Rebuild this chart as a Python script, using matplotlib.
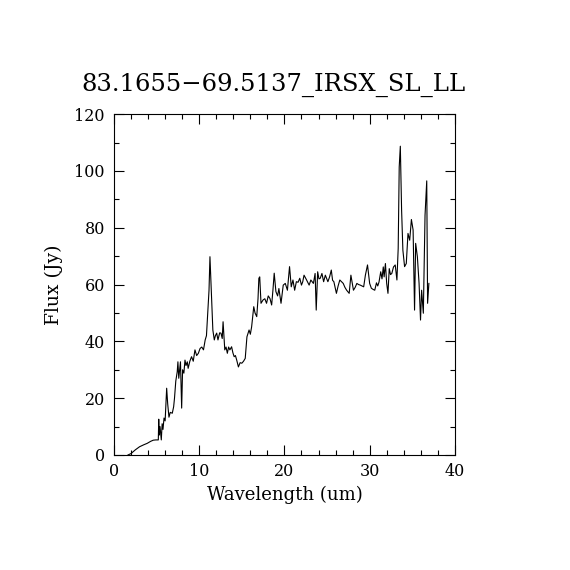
import matplotlib
matplotlib.use("Agg")
import matplotlib.pyplot as plt
from matplotlib.ticker import MultipleLocator

title = "83.1655\u221269.5137_IRSX_SL_LL"
xlabel = "Wavelength (um)"
ylabel = "Flux (Jy)"

wavelength = [1.64, 2.0, 2.5, 3.0, 3.5, 3.9, 4.3, 4.6, 4.9, 5.2, 5.25, 5.3, 5.4, 5.45, 5.55,
              5.65, 5.75, 5.87, 6.0, 6.18, 6.3, 6.45, 6.6, 6.84, 7.0, 7.1, 7.25, 7.42, 7.5,
              7.6, 7.8, 7.94, 8.05, 8.2, 8.33, 8.45, 8.6, 8.7, 8.9, 9.1, 9.3, 9.5, 9.7, 9.9,
              10.1, 10.3, 10.5, 10.7, 10.85, 11.0, 11.15, 11.26, 11.36, 11.46, 11.6, 11.77,
              11.9, 12.05, 12.2, 12.4, 12.55, 12.7, 12.8, 13.0, 13.15, 13.3, 13.45, 13.6,
              13.8, 13.95, 14.1, 14.25, 14.4, 14.6, 14.8, 15.0, 15.2, 15.4, 15.6, 15.85,
              16.0, 16.15, 16.4, 16.55, 16.75, 16.9, 17.0, 17.1, 17.25, 17.5, 17.7, 17.9,
              18.1, 18.3, 18.5, 18.65, 18.8, 19.0, 19.2, 19.35, 19.6, 19.86, 20.1, 20.35,
              20.6, 20.8, 21.0, 21.2, 21.4, 21.6, 21.8, 22.0, 22.15, 22.3, 22.6, 22.9, 23.1,
              23.4, 23.6, 23.73, 23.9, 24.05, 24.2, 24.4, 24.6, 24.8, 25.1, 25.3, 25.5,
              25.65, 25.8, 26.1, 26.3, 26.5, 26.7, 26.9, 27.1, 27.3, 27.6, 27.8, 28.1, 28.3,
              28.5, 28.7, 28.9, 29.1, 29.3, 29.5, 29.75, 30.0, 30.2, 30.4, 30.6, 30.8, 30.95,
              31.1, 31.3, 31.45, 31.6, 31.7, 31.85, 32.0, 32.15, 32.3, 32.45, 32.6, 32.8,
              33.0, 33.2, 33.35, 33.47, 33.6, 33.75, 33.9, 34.1, 34.3, 34.5, 34.7, 34.9,
              35.1, 35.27, 35.4, 35.6, 35.8, 35.97, 36.1, 36.3, 36.5, 36.7, 36.8, 36.95]
flux = [0.0, 0.5, 1.8, 2.9, 3.6, 4.1, 4.8, 5.2, 5.3, 5.3, 12.6, 7.0, 10.0, 8.5, 5.3,
        11.0, 9.0, 13.0, 12.0, 23.5, 18.0, 13.3, 15.0, 14.7, 17.0, 20.0, 26.0, 29.3, 32.8,
        27.0, 32.8, 16.5, 30.0, 28.8, 33.4, 31.5, 32.8, 30.5, 33.0, 34.6, 33.0, 37.0, 35.0,
        35.8, 37.5, 38.0, 37.0, 40.5, 42.0, 49.9, 58.0, 69.8, 62.0, 54.5, 44.0, 40.5,
        42.0, 42.9, 40.5, 43.0, 42.9, 41.0, 46.9, 37.0, 38.0, 35.8, 38.0, 37.0,
        38.1, 36.0, 34.6, 35.0, 33.4, 31.0, 32.5, 32.3, 33.0, 34.0, 41.6, 44.0,
        42.5, 45.1, 52.2, 50.0, 48.7, 55.0, 62.2, 62.7, 53.4, 54.6, 55.0, 53.4,
        56.0, 55.1, 52.8, 58.0, 64.0, 57.5, 56.0, 58.6, 53.4, 59.8, 60.4, 58.0,
        66.3, 59.2, 61.6, 58.0, 61.0, 60.8, 62.2, 59.8, 61.0, 63.3, 61.6, 59.8, 61.6,
        60.4, 63.9, 51.0, 64.5, 62.0, 62.2, 63.9, 61.0, 63.3, 61.0, 62.7, 65.1,
        61.5, 61.0, 56.9, 59.5, 61.6, 61.0, 60.4, 59.0, 58.0, 56.9, 63.3, 58.0, 59.0,
        60.4, 60.0, 59.8, 59.5, 59.2, 63.3, 66.9, 60.4, 58.7, 58.3, 58.0, 60.6, 59.5,
        60.9, 64.5, 62.0, 66.2, 62.7, 67.4, 60.4, 56.9, 65.6, 63.5, 63.9, 66.2,
        66.9, 61.6, 72.7, 101.4, 108.7, 86.2, 72.1, 66.3, 67.4, 78.0, 75.6, 82.9,
        79.2, 51.0, 74.5, 69.8, 60.4, 47.5, 58.0, 49.9, 84.4, 96.5, 53.4, 60.4]

x_ticks = [0, 10, 20, 30, 40]
y_ticks = [0, 20, 40, 60, 80, 100, 120]

plt.rcParams['font.family'] = ['DejaVu Serif']
fig = plt.figure(figsize=(5.7, 5.7), dpi=100)
ax = fig.add_axes([0.2, 0.2018, 0.598, 0.598])
ax.plot(wavelength, flux, color='black', linewidth=0.8)
ax.set_xlim(0, 40)
ax.set_ylim(0, 120)
ax.set_xticks(x_ticks)
ax.set_yticks(y_ticks)
ax.xaxis.set_minor_locator(MultipleLocator(2))
ax.yaxis.set_minor_locator(MultipleLocator(10))
ax.tick_params(which='both', direction='in', top=True, right=True, width=0.8,
               labelsize=11.5, colors='black')
ax.tick_params(which='major', length=7)
ax.tick_params(which='minor', length=3.5)
ax.tick_params(axis='x', which='major', pad=6)
ax.tick_params(axis='y', which='major', pad=6.5)
for s in ax.spines.values():
    s.set_linewidth(0.8)
ax.set_xlabel(xlabel, fontsize=13, labelpad=4)
ax.set_ylabel(ylabel, fontsize=13.5, labelpad=8)
ax.set_title(title, fontsize=17.5, pad=17, x=0.467)
fig.savefig("out.png", dpi=100, facecolor='white')
